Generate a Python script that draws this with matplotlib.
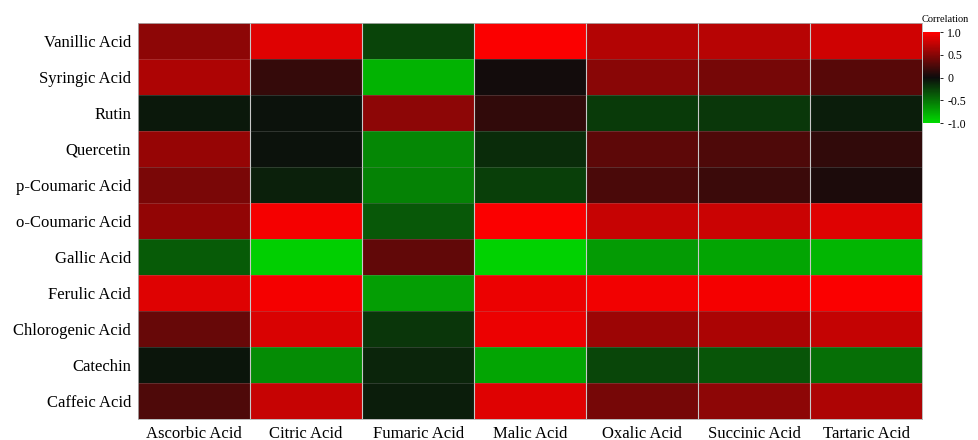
import numpy as np
import matplotlib
matplotlib.use("Agg")
import matplotlib.pyplot as plt
from matplotlib.colors import LinearSegmentedColormap

plt.rcParams['font.family'] = ['Liberation Serif', 'DejaVu Serif']

compounds = ["Vanillic Acid", "Syringic Acid", "Rutin", "Quercetin", "p-Coumaric Acid",
             "o-Coumaric Acid", "Gallic Acid", "Ferulic Acid", "Chlorogenic Acid",
             "Catechin", "Caffeic Acid"]
acids = ["Ascorbic Acid", "Citric Acid", "Fumaric Acid", "Malic Acid",
         "Oxalic Acid", "Succinic Acid", "Tartaric Acid"]

vanillic    = [0.53, 0.86, -0.27, 0.98, 0.68, 0.70, 0.80]
syringic    = [0.66, 0.17, -0.80, 0.03, 0.51, 0.43, 0.31]
rutin       = [-0.06, -0.03, 0.53, 0.15, -0.22, -0.21, -0.08]
quercetin   = [0.57, -0.03, -0.59, -0.15, 0.33, 0.27, 0.15]
p_coumaric  = [0.45, -0.10, -0.57, -0.25, 0.25, 0.19, 0.07]
o_coumaric  = [0.55, 0.96, -0.36, 0.98, 0.76, 0.78, 0.86]
gallic      = [-0.38, -0.93, 0.35, -0.95, -0.68, -0.73, -0.82]
ferulic     = [0.86, 0.96, -0.70, 0.92, 0.94, 0.96, 0.98]
chlorogenic = [0.37, 0.84, -0.20, 0.92, 0.59, 0.65, 0.75]
catechin    = [-0.04, -0.61, -0.12, -0.73, -0.28, -0.35, -0.47]
caffeic     = [0.27, 0.76, -0.08, 0.86, 0.43, 0.53, 0.66]

values = np.array([vanillic, syringic, rutin, quercetin, p_coumaric, o_coumaric,
                   gallic, ferulic, chlorogenic, catechin, caffeic])

cmap = LinearSegmentedColormap.from_list(
    "green_black_red", [(0.0, "#00dc00"), (0.5, "#0c0c0c"), (1.0, "#ff0000")])

fig = plt.figure(figsize=(9.79, 4.40), dpi=100)
ax = fig.add_axes([0.141, 0.048, 0.801, 0.900])

mesh = ax.pcolormesh(values, cmap=cmap, vmin=-1, vmax=1)
ax.set_xlim(0, len(acids))
ax.set_ylim(len(compounds), 0)

# faint cell separators: columns clearer than rows
for x in range(1, len(acids)):
    ax.axvline(x, color="#c8c8c8", linewidth=0.8)
for y in range(1, len(compounds)):
    ax.axhline(y, color="#9a9a9a", linewidth=0.4, alpha=0.45)

ax.set_xticks(np.arange(len(acids)) + 0.5)
ax.set_xticklabels(acids, fontsize=12)
ax.set_yticks(np.arange(len(compounds)) + 0.5)
ax.set_yticklabels(compounds, fontsize=12)
ax.tick_params(length=0, pad=5)
for s in ax.spines.values():
    s.set_color("#b0b0b0")
    s.set_linewidth(0.6)

cax = fig.add_axes([0.943, 0.720, 0.0174, 0.207])
cb = fig.colorbar(mesh, cax=cax, ticks=[1.0, 0.5, 0, -0.5, -1.0])
cb.ax.set_yticklabels(["1.0", "0.5", "0", "-0.5", "-1.0"], fontsize=8.5)
cb.ax.tick_params(length=2, width=0.6, pad=3)
cb.outline.set_visible(False)
fig.text(0.966, 0.955, "Correlation", fontsize=7.5, ha="center", va="center")

fig.savefig("out.png", dpi=100)
